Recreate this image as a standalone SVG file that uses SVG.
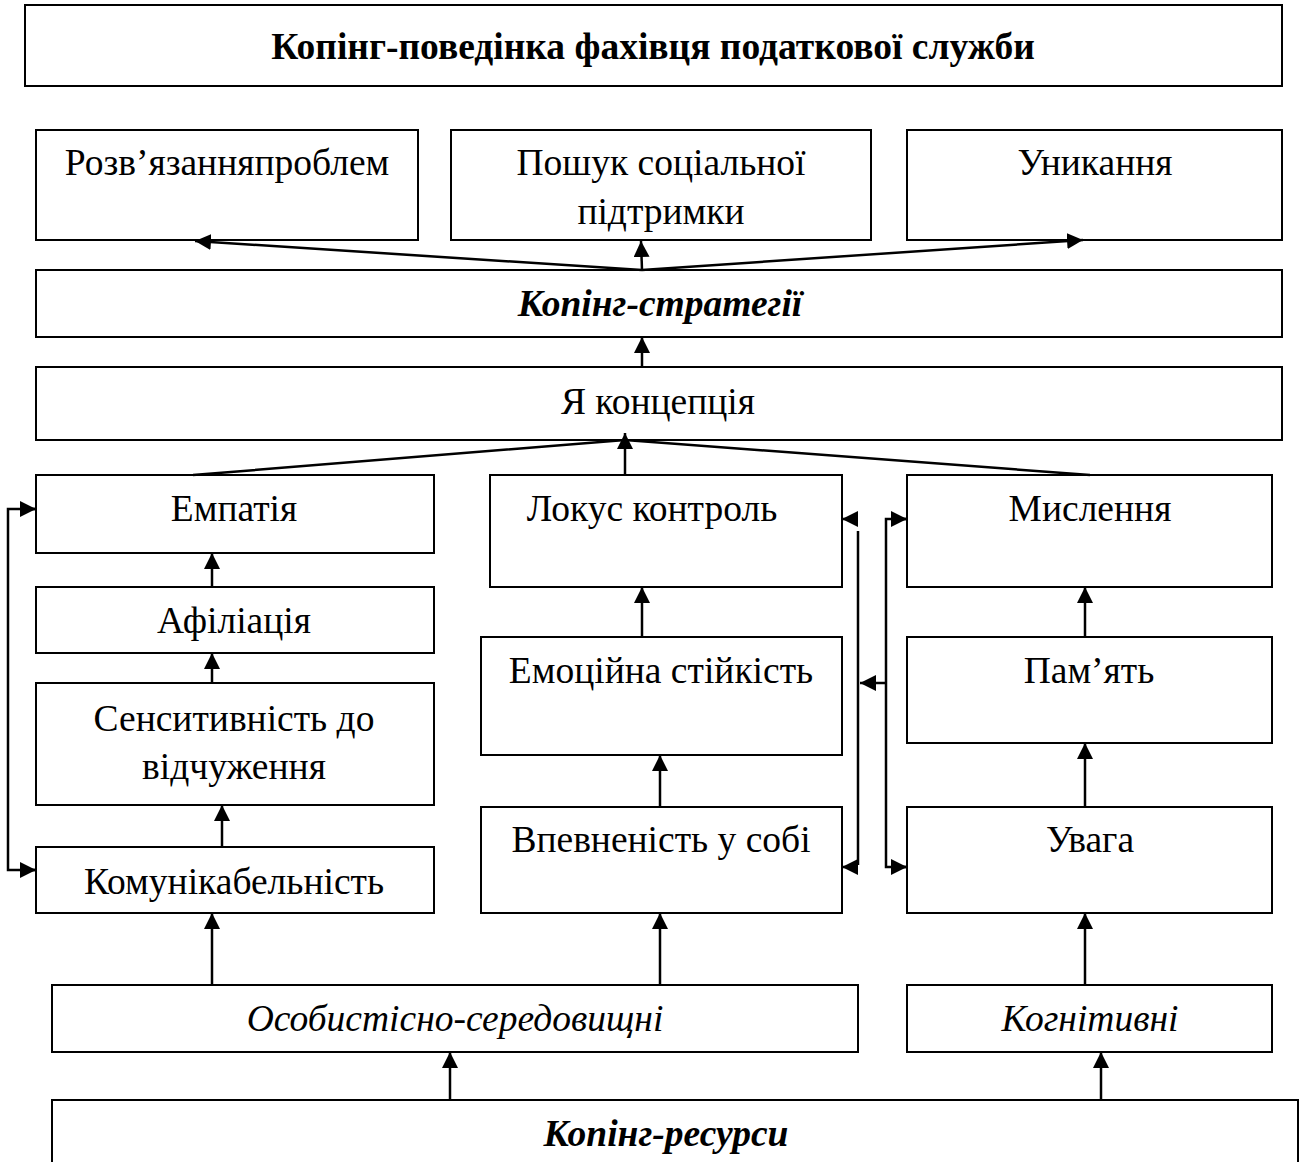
<svg xmlns="http://www.w3.org/2000/svg" width="1301" height="1162" viewBox="0 0 1301 1162">
<style>
.box{fill:#fff;stroke:#000;stroke-width:2}
.t{font-family:"Liberation Serif","Times New Roman",serif;font-size:37.5px;fill:#000;text-anchor:middle}
.b{font-weight:bold}
.i{font-style:italic}
.c{fill:none;stroke:#000;stroke-width:2.5}
.a{marker-end:url(#ah)}
</style>
<defs>
<marker id="ah" viewBox="0 0 16 16" refX="16" refY="8" markerWidth="16" markerHeight="16" markerUnits="userSpaceOnUse" orient="auto">
<path d="M0,0 L16,8 L0,16 z" fill="#000"/>
</marker>
</defs>
<rect width="1301" height="1162" fill="#fff"/>
<g id="title"><rect class="box" x="25" y="5" width="1257" height="81"/><text class="t b" x="653" y="59">Копінг-поведінка фахівця податкової служби</text></g>
<g id="rozv"><rect class="box" x="36" y="130" width="382" height="110"/><text class="t" x="227" y="175">Розв’язанняпроблем</text></g>
<g id="poshuk"><rect class="box" x="451" y="130" width="420" height="110"/><text class="t" x="661" y="175">Пошук соціальної</text><text class="t" x="661" y="224">підтримки</text></g>
<g id="unykannia"><rect class="box" x="907" y="130" width="375" height="110"/><text class="t" x="1095" y="175">Уникання</text></g>
<g id="strategii"><rect class="box" x="36" y="270" width="1246" height="67"/><text class="t b i" x="660" y="316">Копінг-стратегії</text></g>
<g id="yakoncepcia"><rect class="box" x="36" y="367" width="1246" height="73"/><text class="t" x="658" y="414">Я концепція</text></g>
<g id="empatia"><rect class="box" x="36" y="475" width="398" height="78"/><text class="t" x="234" y="521">Емпатія</text></g>
<g id="lokus"><rect class="box" x="490" y="475" width="352" height="112"/><text class="t" x="652" y="521">Локус контроль</text></g>
<g id="myslennia"><rect class="box" x="907" y="475" width="365" height="112"/><text class="t" x="1090" y="521">Мислення</text></g>
<g id="afiliacia"><rect class="box" x="36" y="587" width="398" height="66"/><text class="t" x="234" y="633">Афіліація</text></g>
<g id="sensytyvnist"><rect class="box" x="36" y="683" width="398" height="122"/><text class="t" x="234" y="731">Сенситивність до</text><text class="t" x="234" y="779">відчуження</text></g>
<g id="komunikabelnist"><rect class="box" x="36" y="847" width="398" height="66"/><text class="t" x="234" y="894">Комунікабельність</text></g>
<g id="emociyna"><rect class="box" x="481" y="637" width="361" height="118"/><text class="t" x="661" y="683">Емоційна стійкість</text></g>
<g id="vpevnenist"><rect class="box" x="481" y="807" width="361" height="106"/><text class="t" x="661" y="852">Впевненість у собі</text></g>
<g id="pamiat"><rect class="box" x="907" y="637" width="365" height="106"/><text class="t" x="1089" y="683">Пам’ять</text></g>
<g id="uvaga"><rect class="box" x="907" y="807" width="365" height="106"/><text class="t" x="1090" y="852">Увага</text></g>
<g id="osobystisno"><rect class="box" x="52" y="985" width="806" height="67"/><text class="t i" x="455" y="1031">Особистісно-середовищні</text></g>
<g id="kognityvni"><rect class="box" x="907" y="985" width="365" height="67"/><text class="t i" x="1090" y="1031">Когнітивні</text></g>
<g id="resursy"><rect class="box" x="52" y="1100" width="1246" height="80"/><text class="t b i" x="666" y="1146">Копінг-ресурси</text></g>
<g id="connectors">
<path class="c a" d="M642,270 L195,241"/>
<path class="c a" d="M642,270 L641,241"/>
<path class="c a" d="M642,270 L1083,240"/>
<path class="c a" d="M642,367 L642,337"/>
<path class="c" d="M193,475 L625,440 L1090,475"/>
<path class="c a" d="M625,475 L625,433"/>
<path class="c a" d="M212,587 L212,553"/>
<path class="c a" d="M212,683 L212,653"/>
<path class="c a" d="M222,847 L222,805"/>
<path class="c" d="M36,509 L8,509 L8,870 L36,870"/>
<path class="c a" d="M20,509 L36,509"/>
<path class="c a" d="M20,870 L36,870"/>
<path class="c a" d="M642,637 L642,587"/>
<path class="c a" d="M660,807 L660,755"/>
<path class="c" d="M858,531 L858,865"/>
<path class="c a" d="M858,519 L842,519"/>
<path class="c a" d="M858,867 L842,867"/>
<path class="c" d="M907,519 L886,519 L886,867 L907,867"/>
<path class="c a" d="M895,519 L907,519"/>
<path class="c a" d="M895,867 L907,867"/>
<path class="c a" d="M886,683 L860,683"/>
<path class="c a" d="M1085,637 L1085,587"/>
<path class="c a" d="M1085,807 L1085,743"/>
<path class="c a" d="M1085,985 L1085,913"/>
<path class="c a" d="M212,985 L212,913"/>
<path class="c a" d="M660,985 L660,913"/>
<path class="c a" d="M450,1100 L450,1052"/>
<path class="c a" d="M1101,1100 L1101,1052"/>
</g>
</svg>
